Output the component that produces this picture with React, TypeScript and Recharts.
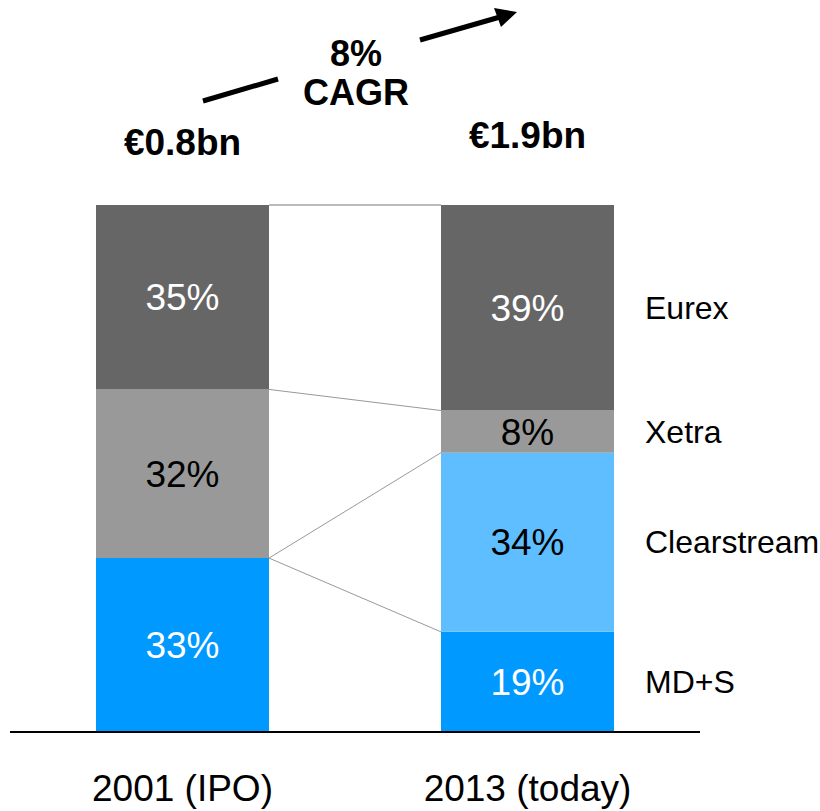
import { Bar, BarChart, Customized, LabelList, ReferenceLine, XAxis, YAxis } from 'recharts';

const years = ['2001 (IPO)', '2013 (today)'];
const totals = ['€0.8bn', '€1.9bn'];
const mds = [33, 19];
const clearstream = [0, 34]; // 2001: shown inside the blue block
const xetra = [32, 8];
const eurex = [35, 39];
const cagrLines = ['8%', 'CAGR'];

const FONT = '"Liberation Sans", Arial, sans-serif';
const BAR = 173;

const series = [
    { key: 'mds', name: 'MD+S', values: mds, fill: '#0099ff', text: '#ffffff' },
    { key: 'clearstream', name: 'Clearstream', values: clearstream, fill: '#5ebeff', text: '#000000' },
    { key: 'xetra', name: 'Xetra', values: xetra, fill: '#999999', text: '#000000' },
    { key: 'eurex', name: 'Eurex', values: eurex, fill: '#666666', text: '#ffffff' },
];

const data = years.map((year, i) => {
    const row: Record<string, string | number> = { year, total: totals[i] };
    series.forEach((s) => { row[s.key] = s.values[i]; });
    return row;
});

// top of each stacked segment, per bar
const tops = years.map((_, i) => {
    let sum = 0;
    return series.map((s) => (sum += s.values[i]));
});

const box = (p: any) => p.viewBox ?? p;

const sideLabel = (props: any) => {
    const { x, y, width, height } = box(props);
    if (!props.value) return null;
    return (
        <text x={x + width + 31} y={y + height / 2} dy={11} fontSize={32} fontFamily={FONT} fill="#000">
            {props.value}
        </text>
    );
};

const totalLabel = (props: any) => {
    const { x, y, width } = box(props);
    const first = props.value === totals[0];
    return (
        <text x={x + width / 2} y={y} dy={first ? -50 : -57} textAnchor="middle"
            fontSize={37} fontWeight="bold" fontFamily={FONT} fill="#000">
            {props.value}
        </text>
    );
};

const YearTick = (props: any) => (
    <text x={props.x} y={props.y} dy={67} textAnchor="middle" fontSize={37} fontFamily={FONT} fill="#000">
        {props.payload.value}
    </text>
);

const connector = (color: string, w: number) => (p: any) => (
    <line x1={p.x1 + BAR / 2} y1={p.y1} x2={p.x2 - BAR / 2} y2={p.y2} stroke={color} strokeWidth={w} />
);

const CagrMark = () => (
    <g fontFamily={FONT} fontWeight="bold" fontSize={36} fill="#000">
        <line x1={203} y1={101} x2={278} y2={79} stroke="#000" strokeWidth={5} />
        <line x1={420} y1={40} x2={500} y2={17} stroke="#000" strokeWidth={5} />
        <polygon points="517,12 494,8 501,27" fill="#000" />
        <text x={356} y={66} textAnchor="middle">{cagrLines[0]}</text>
        <text x={356} y={105} textAnchor="middle">{cagrLines[1]}</text>
    </g>
);

export default function App() {
    const last = years[years.length - 1];
    return (
        <div style={{ position: 'absolute', left: 0, top: 0 }}>
            <BarChart width={820} height={811} data={data} barSize={BAR}
                margin={{ top: 205, right: 120, left: 10, bottom: 19 }}>
                <XAxis dataKey="year" height={60} interval={0} tickLine={false} tickSize={0}
                    axisLine={{ stroke: '#000', strokeWidth: 2 }} tick={<YearTick />} />
                <YAxis hide domain={[0, 100]} />
                {series.map((s) => (
                    <Bar key={s.key} dataKey={s.key} stackId="a" fill={s.fill} isAnimationActive={false}>
                        <LabelList dataKey={s.key} position="center" fill={s.text} fontSize={37}
                            fontFamily={FONT} formatter={(v: any) => (v ? `${v}%` : '')} />
                        <LabelList dataKey={(row: any) => (row.year === last ? s.name : '')} content={sideLabel} />
                        {s.key === 'eurex' && <LabelList dataKey="total" content={totalLabel} />}
                    </Bar>
                ))}
                {series.map((s, k) => (
                    <ReferenceLine key={`c-${s.key}`}
                        segment={[{ x: years[0], y: tops[0][k] }, { x: years[1], y: tops[1][k] }]}
                        shape={k === series.length - 1 ? connector('#bbbbbb', 2) : connector('#999999', 1)} />
                ))}
                <Customized component={<CagrMark />} />
            </BarChart>
        </div>
    );
}
